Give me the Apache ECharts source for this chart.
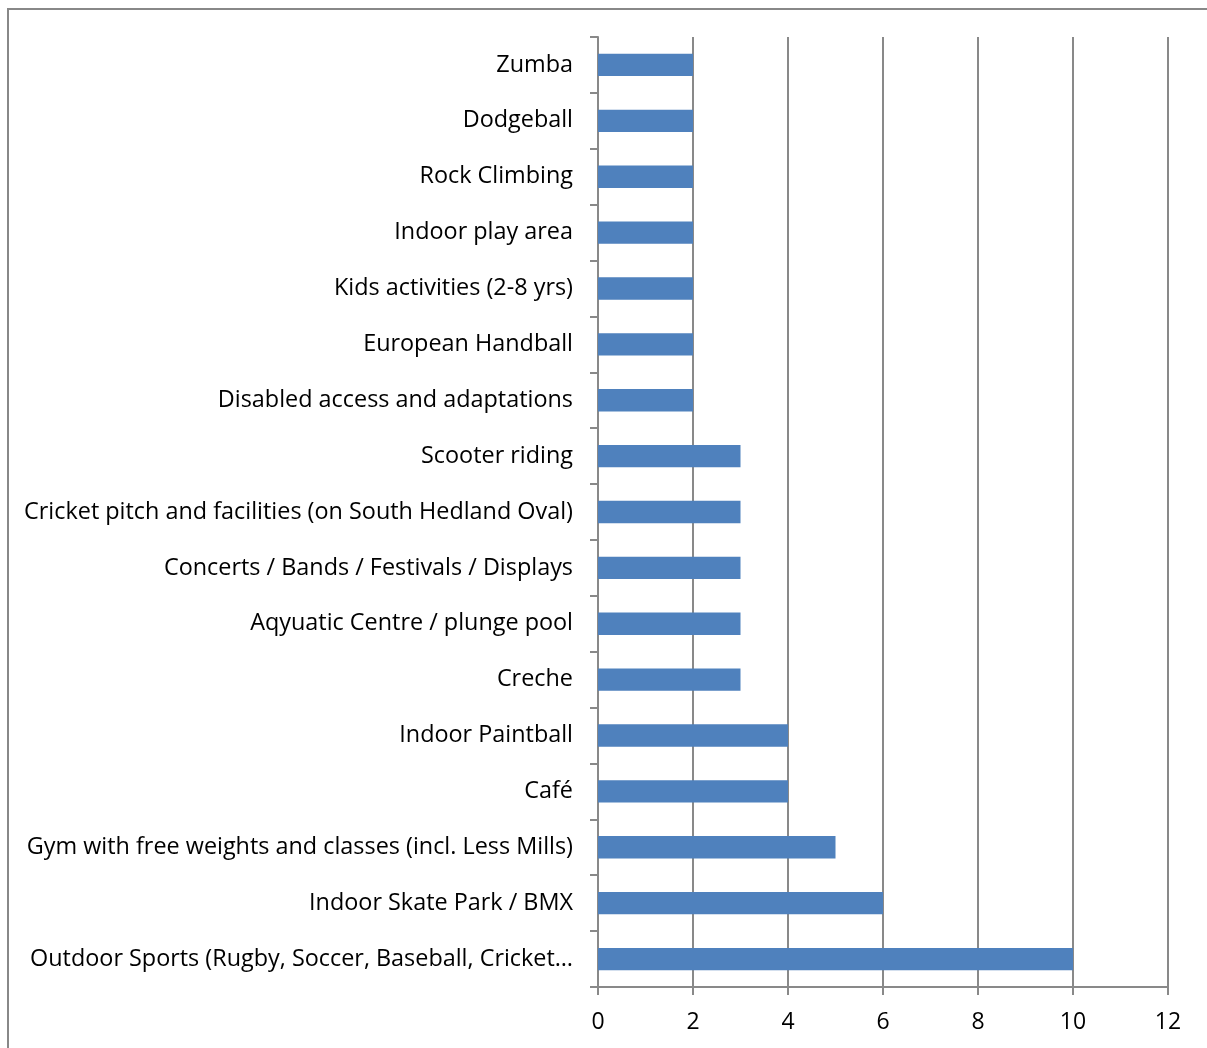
<!DOCTYPE html>
<html><head><meta charset="utf-8">
<script src="https://cdn.jsdelivr.net/npm/echarts@6/dist/echarts.min.js"></script>
<style>html,body{margin:0;padding:0;background:#fff}#c{width:1207px;height:1048px}</style>
</head><body><div id="c"></div>
<script>
const categories = [
  "Outdoor Sports (Rugby, Soccer, Baseball, Cricket…",
  "Indoor Skate Park / BMX",
  "Gym with free weights and classes (incl. Less Mills)",
  "Café",
  "Indoor Paintball",
  "Creche",
  "Aqyuatic Centre / plunge pool",
  "Concerts / Bands / Festivals / Displays",
  "Cricket pitch and facilities (on South Hedland Oval)",
  "Scooter riding",
  "Disabled access and adaptations",
  "European Handball",
  "Kids activities (2-8 yrs)",
  "Indoor play area",
  "Rock Climbing",
  "Dodgeball",
  "Zumba"
];
const values = [10, 6, 5, 4, 4, 3, 3, 3, 3, 3, 2, 2, 2, 2, 2, 2, 2];
const xTicks = { min: 0, max: 12, interval: 2 };

const chart = echarts.init(document.getElementById('c'), null, { renderer: 'canvas' });
const font = '"Open Sans", "Liberation Sans", sans-serif';
chart.setOption({
  animation: false,
  backgroundColor: '#fff',
  graphic: [{
    type: 'rect', shape: { x: 8, y: 9, width: 1300, height: 1200 },
    style: { fill: 'none', stroke: '#888', lineWidth: 2 }, silent: true
  }],
  grid: { left: 598, right: 39, top: 37, bottom: 61 },
  xAxis: {
    type: 'value', min: xTicks.min, max: xTicks.max, interval: xTicks.interval,
    axisLine: { show: true, lineStyle: { color: '#898989', width: 2 } },
    axisTick: { show: true, length: 8, lineStyle: { color: '#898989', width: 2 } },
    splitLine: { show: true, lineStyle: { color: '#898989', width: 2 } },
    axisLabel: { color: '#000', fontSize: 23, fontFamily: font, margin: 24 }
  },
  yAxis: {
    type: 'category', data: categories,
    axisLine: { show: true, lineStyle: { color: '#898989', width: 2 } },
    axisTick: { show: true, length: 8, alignWithLabel: false, lineStyle: { color: '#898989', width: 2 } },
    axisLabel: { color: '#000', fontSize: 23.4, fontFamily: font, margin: 25, interval: 0, padding: [6, 0, 0, 0] }
  },
  series: [{
    type: 'bar', data: values, barCategoryGap: '60%',
    itemStyle: { color: '#4F81BD' }
  }]
});
</script></body></html>
